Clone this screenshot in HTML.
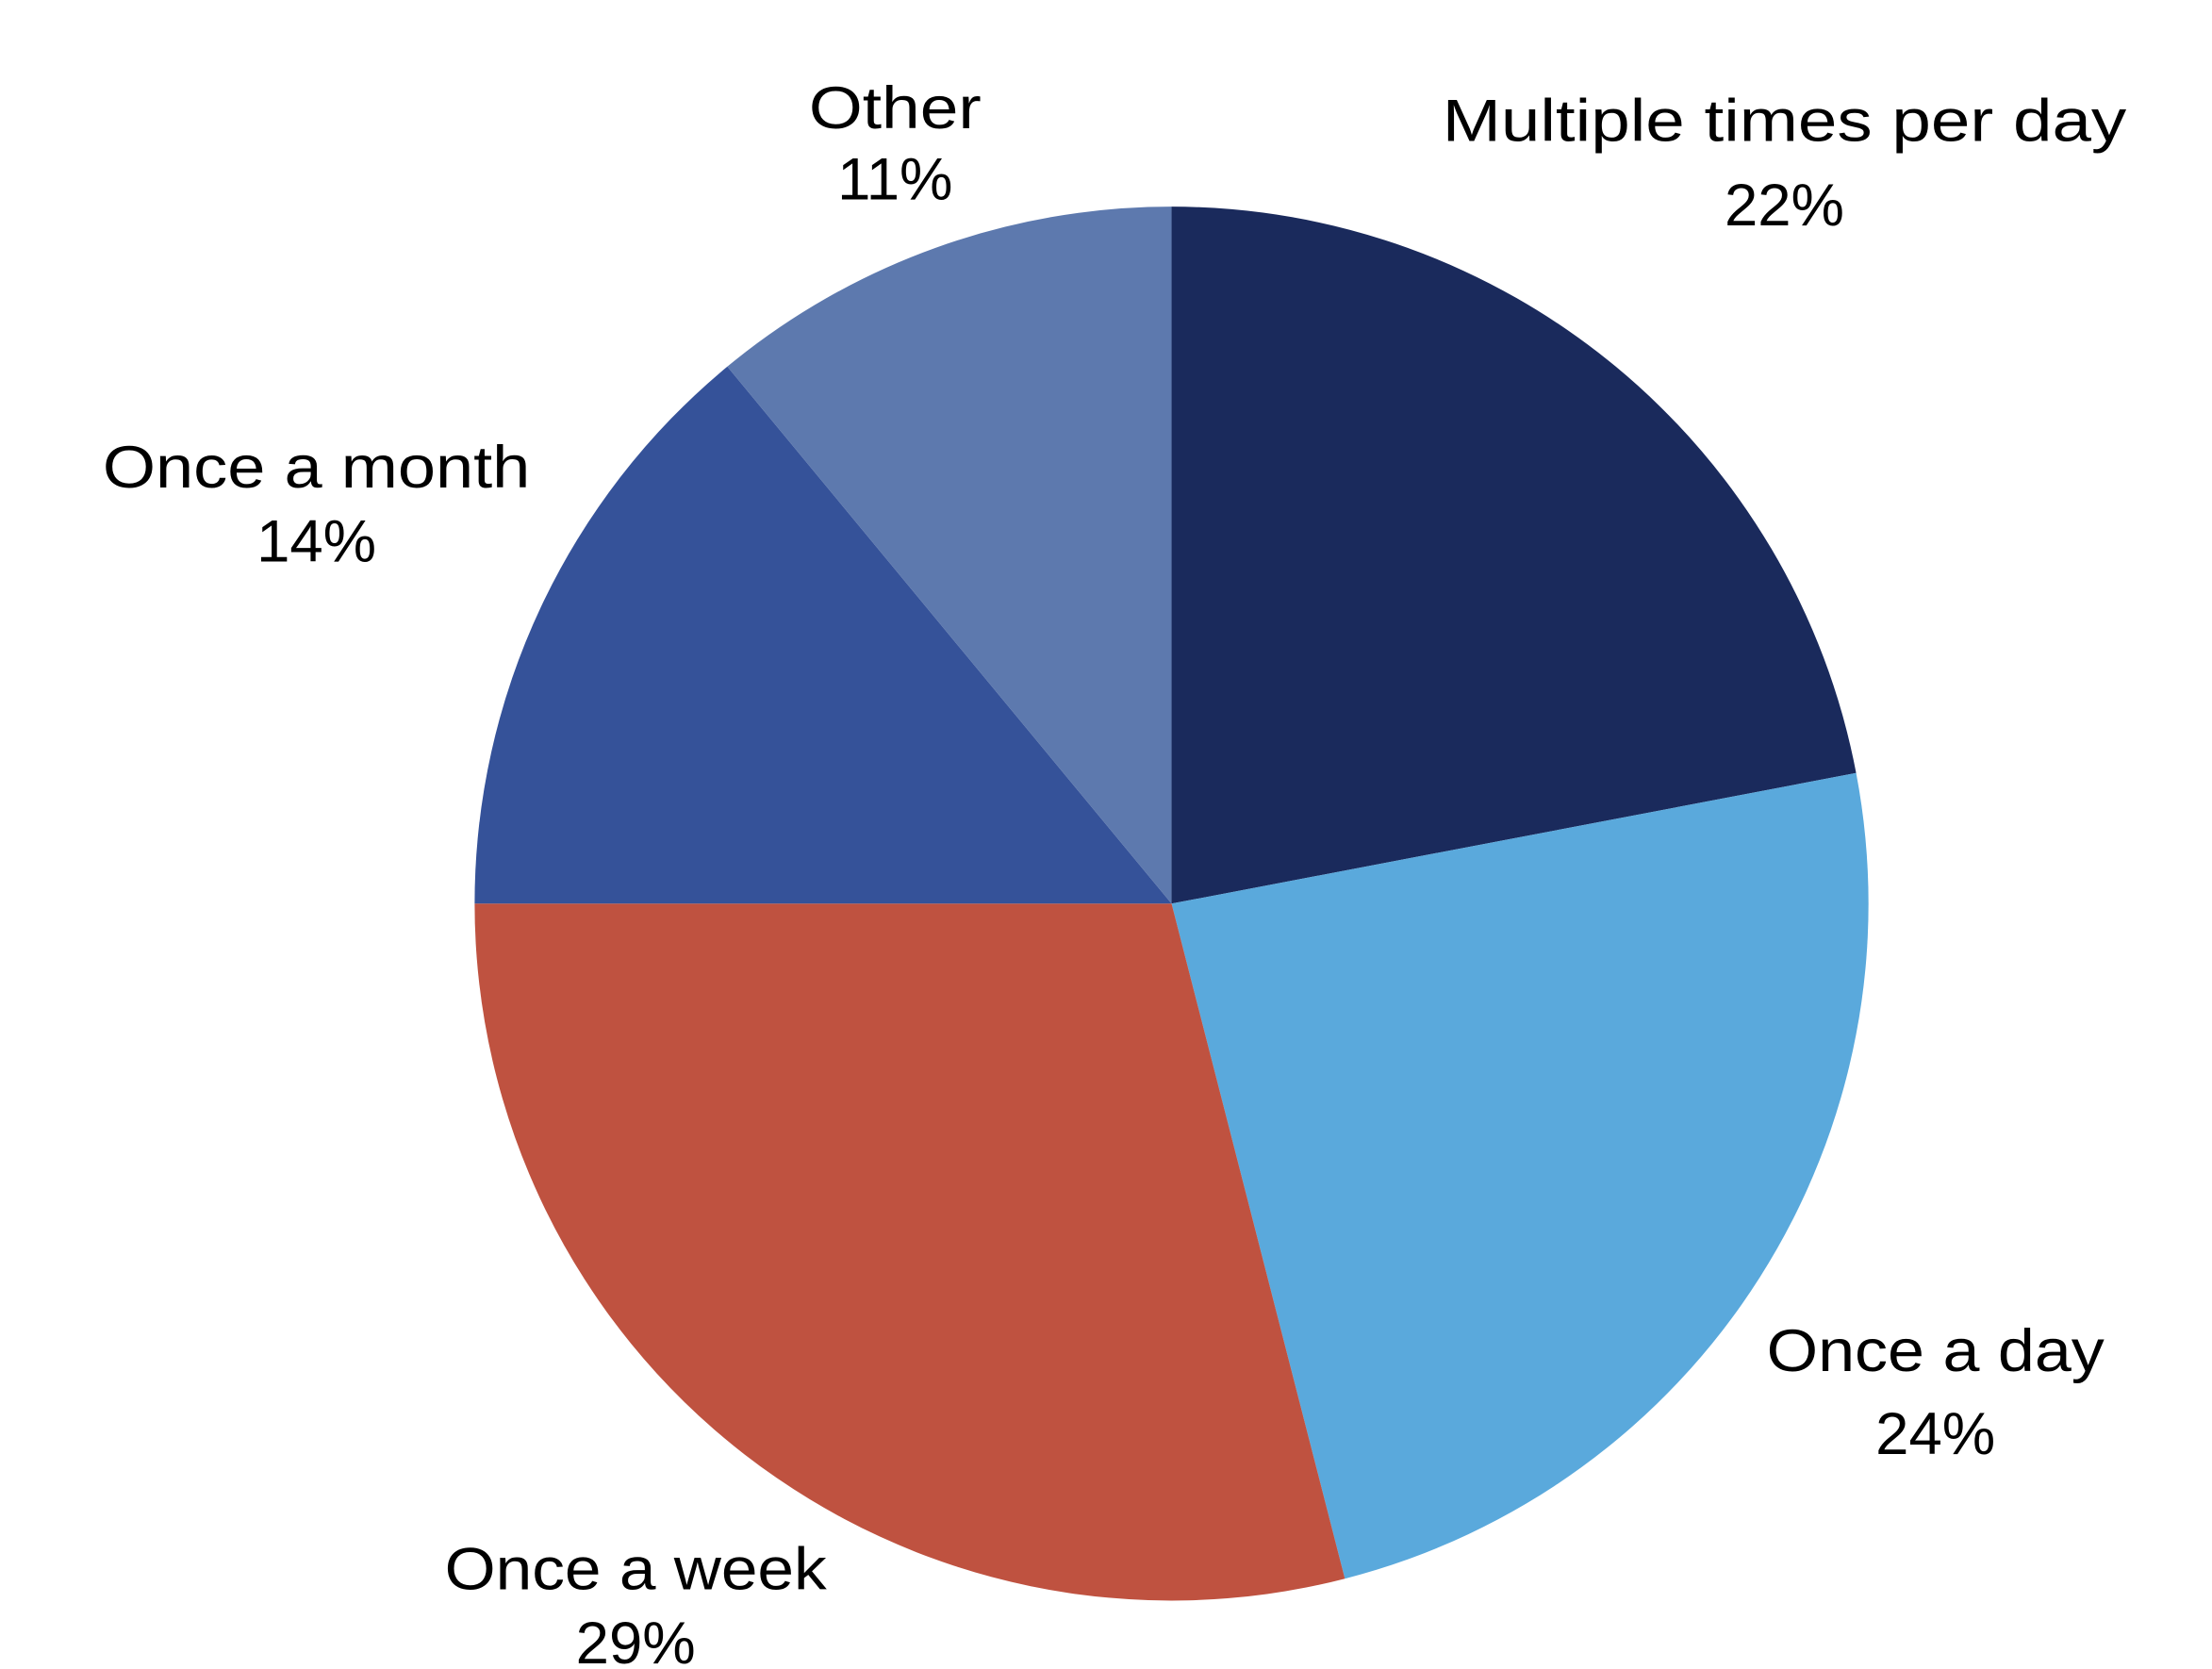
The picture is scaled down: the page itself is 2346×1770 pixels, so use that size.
<!DOCTYPE html>
<html><head><meta charset="utf-8"><style>
html,body{margin:0;padding:0;background:#fff;}
svg{display:block;}
text{font-family:"Liberation Sans",sans-serif;fill:#000;}
</style></head><body>
<svg id="chart" width="2346" height="1770" viewBox="0 0 1552 1171" xmlns="http://www.w3.org/2000/svg">
<rect width="1552" height="1171" fill="#fff"/>
<g id="slices"></g>
<g id="labels"></g>
</svg>
<script>
const categories = ["Multiple times per day","Once a day","Once a week","Once a month","Other"];
const values = [22,24,29,14,11];
const colors = ["#1a2a5c","#5aa9dc","#bf5240","#355299","#5d79ae"];
const labelLayout = [
  {x:1252,y1:99,y2:158,w:480},
  {x:1358,y1:962,y2:1020,w:237},
  {x:446,y1:1115,y2:1167,w:268},
  {x:222,y1:342,y2:394,w:300},
  {x:628,y1:90,y2:140,w:121}
];
const cx=822, cy=634, r=489;
const NS="http://www.w3.org/2000/svg";
const total=values.reduce((a,b)=>a+b,0);
function pt(a){return [cx+r*Math.sin(a), cy-r*Math.cos(a)];}
let start=0;
const gS=document.getElementById('slices');
const gL=document.getElementById('labels');
values.forEach((v,i)=>{
  const ang=v/total*2*Math.PI;
  const [x1,y1]=pt(start),[x2,y2]=pt(start+ang);
  const p=document.createElementNS(NS,'path');
  p.setAttribute('d',`M${cx},${cy}L${x1},${y1}A${r},${r} 0 ${ang>Math.PI?1:0} 1 ${x2},${y2}Z`);
  p.setAttribute('fill',colors[i]);
  
  
  gS.appendChild(p);
  start+=ang;
  const L=labelLayout[i];
  const t1=document.createElementNS(NS,'text');
  t1.setAttribute('x',L.x);t1.setAttribute('y',L.y1);
  t1.setAttribute('text-anchor','middle');t1.setAttribute('font-size','42');
  t1.setAttribute('textLength',L.w);t1.setAttribute('lengthAdjust','spacingAndGlyphs');
  t1.textContent=categories[i];
  
  
  gL.appendChild(t1);
  const t2=document.createElementNS(NS,'text');
  t2.setAttribute('x',L.x);t2.setAttribute('y',L.y2);
  t2.setAttribute('text-anchor','middle');t2.setAttribute('font-size','42');
  t2.textContent=v+'%';
  
  
  gL.appendChild(t2);
});
</script>
</body></html>
